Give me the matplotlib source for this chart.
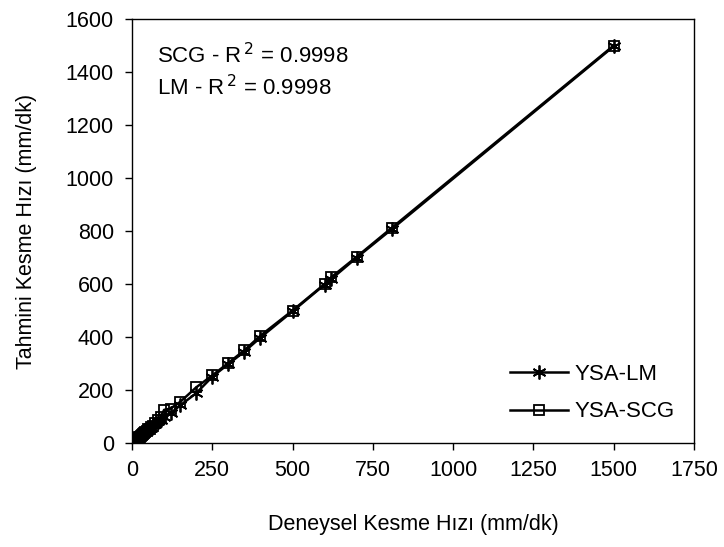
import matplotlib
matplotlib.use("Agg")
import matplotlib.pyplot as plt

plt.rcParams['font.family'] = ['Liberation Sans', 'DejaVu Sans']

# deneysel (experimental) cutting speed values
deneysel = [3, 6, 9, 12, 15, 18, 21, 24, 27, 30, 34, 38, 42, 46, 50, 55, 60, 66,
            72, 80, 90, 100, 120, 150, 200, 250, 300, 350, 400, 500, 600, 620,
            700, 810, 1500]
# ANN predictions
ysa_lm = [4, 5, 10, 11, 14, 19, 20, 25, 26, 31, 33, 39, 41, 47, 49, 56, 58, 67,
          70, 82, 88, 98, 112, 142, 188, 250, 298, 345, 398, 497, 598, 618,
          700, 808, 1497]
ysa_scg = [5, 7, 9, 13, 16, 17, 22, 24, 28, 30, 35, 37, 43, 45, 51, 54, 62, 65,
           74, 85, 100, 125, 130, 155, 210, 255, 302, 350, 405, 500, 600, 625,
           703, 813, 1500]

fig = plt.figure(figsize=(7.24, 5.47), dpi=100)
ax = fig.add_axes([132/724, 104/547, 562/724, 424/547])

ax.plot(deneysel, ysa_lm, '-', color='black', lw=1.8, marker=(6, 2, 0),
        ms=10, mew=1.3, label='YSA-LM')
ax.plot(deneysel, ysa_scg, '-', color='black', lw=1.8, marker='s',
        ms=7.5, mfc='none', mew=1.3, label='YSA-SCG')

ax.set_xlim(0, 1750)
ax.set_ylim(0, 1600)
ax.set_xticks(range(0, 1751, 250))
ax.set_yticks(range(0, 1601, 200))
ax.tick_params(labelsize=15.5, length=5, width=1, direction='out', pad=7)
ax.tick_params(axis='y', pad=8)
for s in ax.spines.values():
    s.set_linewidth(1)

ax.set_xlabel('Deneysel Kesme Hızı (mm/dk)', fontsize=15.5, labelpad=24)
ax.set_ylabel('Tahmini Kesme Hızı (mm/dk)', fontsize=15.5, labelpad=21)

ax.text(0.045, 0.913, 'SCG - R$^{\\,2}$ = 0.9998', transform=ax.transAxes,
        fontsize=16, va='center')
ax.text(0.045, 0.838, 'LM - R$^{\\,2}$ = 0.9998', transform=ax.transAxes,
        fontsize=16, va='center')

ax.legend(loc='center left', bbox_to_anchor=(0.637, 0.118), frameon=False,
          fontsize=16, handlelength=2.6, handletextpad=0.3, labelspacing=0.75)

fig.savefig('out.png', dpi=100)
